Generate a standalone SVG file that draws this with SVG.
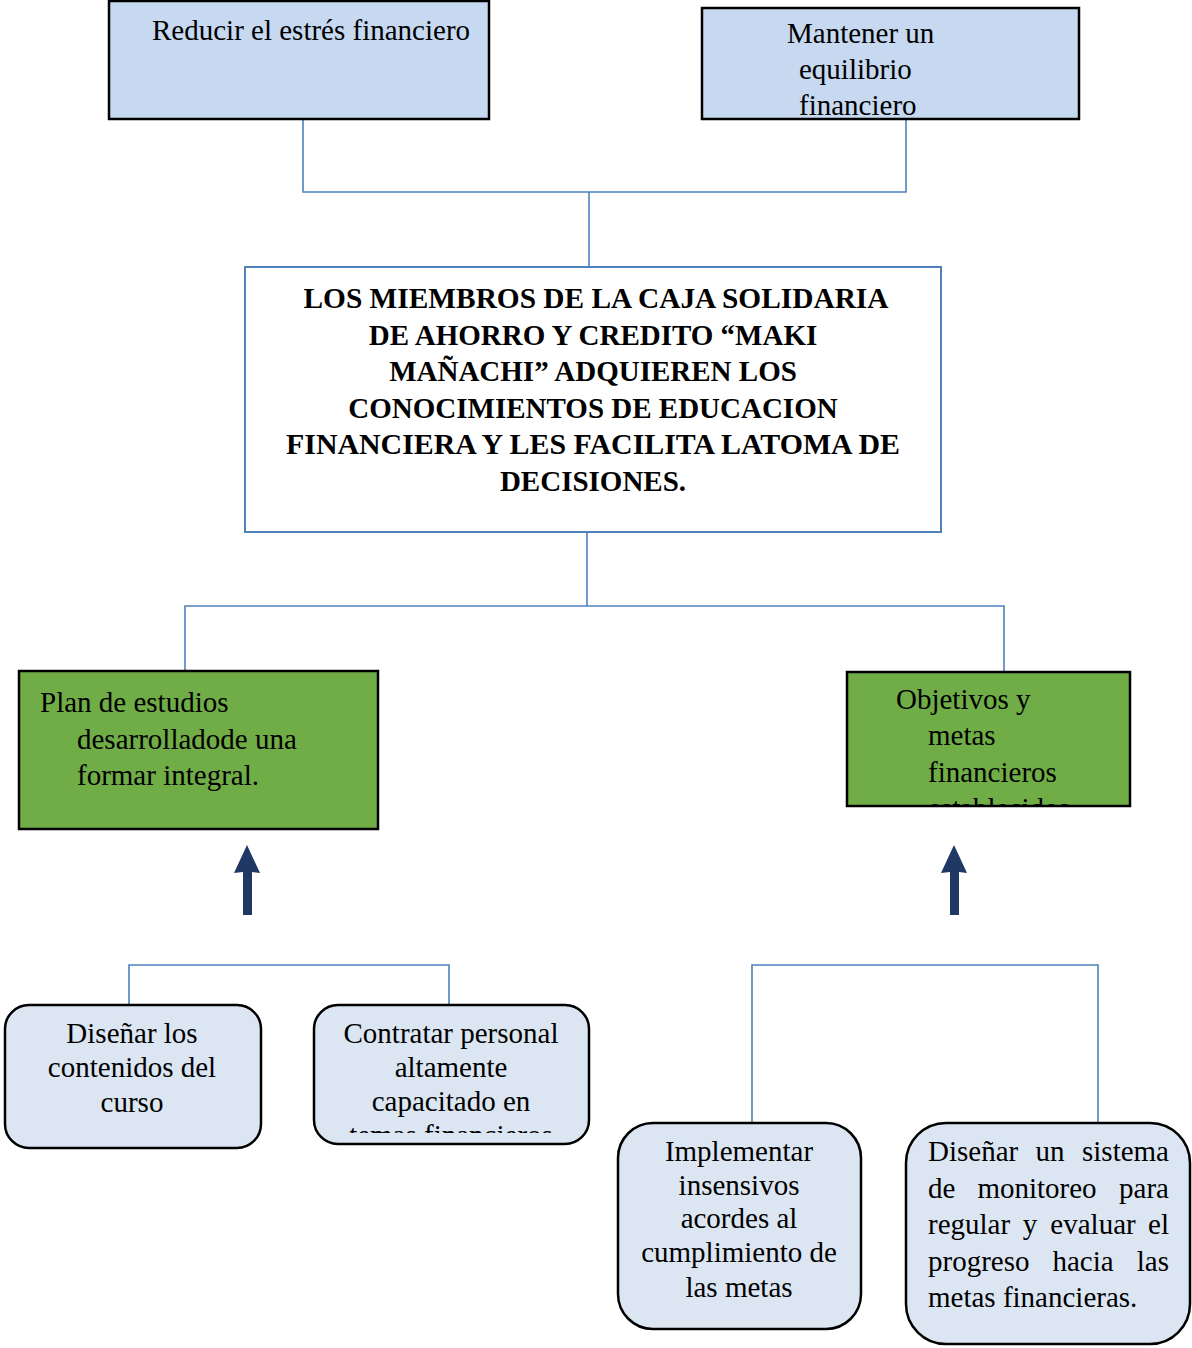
<svg xmlns="http://www.w3.org/2000/svg" width="1192" height="1348" viewBox="0 0 1192 1348">
<style>
.t{font-family:"Liberation Serif","Times New Roman",serif;font-size:29px;fill:#000}
.b{font-family:"Liberation Serif","Times New Roman",serif;font-size:29px;font-weight:bold;fill:#000;text-anchor:middle}
.c{text-anchor:middle}
.e{text-anchor:end}
.blue{fill:#c6d9f1;stroke:#000;stroke-width:2.5}
.green{fill:#70ad47;stroke:#000;stroke-width:2.5}
.pale{fill:#dce6f2;stroke:#000;stroke-width:2.5}
.conn{fill:none;stroke:#4f81bd;stroke-width:1.6}
.arrow{fill:#1f3864}
</style>
<defs>
<clipPath id="clipObj"><rect x="847" y="672" width="283" height="133"/></clipPath>
<clipPath id="clipCon"><rect x="314" y="1005" width="275" height="128"/></clipPath>
</defs>
<rect width="1192" height="1348" fill="#fff"/>
<g id="connectors">
<path class="conn" d="M303,119 V192 H906 V119"/>
<path class="conn" d="M589,192 V267"/>
<path class="conn" d="M587,532 V606"/>
<path class="conn" d="M185,671 V606 H1004 V672"/>
<path class="conn" d="M129,1005 V965 H449 V1005"/>
<path class="conn" d="M752,1123 V965 H1098 V1123"/>
<polygon class="arrow" points="243,915 243,872 234,873 247,845 260,873 252,872 252,915"/>
<polygon class="arrow" points="950,915 950,872 941,873 954,845 967,873 959,872 959,915"/>
</g>
<g id="node-reducir">
<rect class="blue" x="109" y="1" width="380" height="118"/>
<text class="t" x="152" y="40">Reducir el estrés financiero</text>
</g>
<g id="node-mantener">
<rect class="blue" x="702" y="8" width="377" height="111"/>
<text class="t" x="787" y="43">Mantener un</text>
<text class="t" x="799" y="79">equilibrio</text>
<text class="t" x="799" y="115">financiero</text>
</g>
<g id="node-center">
<rect x="245" y="267" width="696" height="265" fill="#fff" stroke="#4f81bd" stroke-width="2"/>
<text class="b" x="596" y="308" textLength="585" lengthAdjust="spacingAndGlyphs">LOS MIEMBROS DE LA CAJA SOLIDARIA</text>
<text class="b" x="593" y="345">DE AHORRO Y CREDITO “MAKI</text>
<text class="b" x="593" y="381">MAÑACHI” ADQUIEREN LOS</text>
<text class="b" x="593" y="418">CONOCIMIENTOS DE EDUCACION</text>
<text class="b" x="593" y="454" textLength="614" lengthAdjust="spacingAndGlyphs">FINANCIERA Y LES FACILITA LATOMA DE</text>
<text class="b" x="593" y="491">DECISIONES.</text>
</g>
<g id="node-plan">
<rect class="green" x="19" y="671" width="359" height="158"/>
<text class="t" x="40" y="712">Plan de estudios</text>
<text class="t" x="77" y="749">desarrolladode una</text>
<text class="t" x="77" y="785">formar integral.</text>
</g>
<g id="node-objetivos">
<rect class="green" x="847" y="672" width="283" height="134"/>
<g clip-path="url(#clipObj)">
<text class="t" x="896" y="709">Objetivos y</text>
<text class="t" x="928" y="745">metas</text>
<text class="t" x="928" y="782">financieros</text>
<text class="t" x="928" y="818">establecidos</text>
</g>
</g>
<g id="node-disenar-contenidos">
<rect class="pale" x="5" y="1005" width="256" height="143" rx="24"/>
<text class="t c" x="132" y="1043">Diseñar los</text>
<text class="t c" x="132" y="1077">contenidos del</text>
<text class="t c" x="132" y="1112">curso</text>
</g>
<g id="node-contratar">
<rect class="pale" x="314" y="1005" width="275" height="139" rx="24"/>
<g clip-path="url(#clipCon)">
<text class="t c" x="451" y="1043">Contratar personal</text>
<text class="t c" x="451" y="1077">altamente</text>
<text class="t c" x="451" y="1111">capacitado en</text>
<text class="t c" x="451" y="1145">temas financieros</text>
</g>
</g>
<g id="node-implementar">
<rect class="pale" x="618" y="1123" width="243" height="206" rx="35"/>
<text class="t c" x="739" y="1161">Implementar</text>
<text class="t c" x="739" y="1195">insensivos</text>
<text class="t c" x="739" y="1228">acordes al</text>
<text class="t c" x="739" y="1262">cumplimiento de</text>
<text class="t c" x="739" y="1297">las metas</text>
</g>
<g id="node-monitoreo">
<rect class="pale" x="906" y="1123" width="284" height="221" rx="40"/>
<text class="t" x="928" y="1161">Diseñar</text>
<text class="t c" x="1050" y="1161">un</text>
<text class="t e" x="1169" y="1161">sistema</text>
<text class="t" x="928" y="1198">de</text>
<text class="t c" x="1037" y="1198">monitoreo</text>
<text class="t e" x="1169" y="1198">para</text>
<text class="t" x="928" y="1234">regular</text>
<text class="t c" x="1030" y="1234">y</text>
<text class="t c" x="1093" y="1234">evaluar</text>
<text class="t e" x="1169" y="1234">el</text>
<text class="t" x="928" y="1271">progreso</text>
<text class="t c" x="1083" y="1271">hacia</text>
<text class="t e" x="1169" y="1271">las</text>
<text class="t" x="928" y="1307">metas financieras.</text>
</g>
</svg>
